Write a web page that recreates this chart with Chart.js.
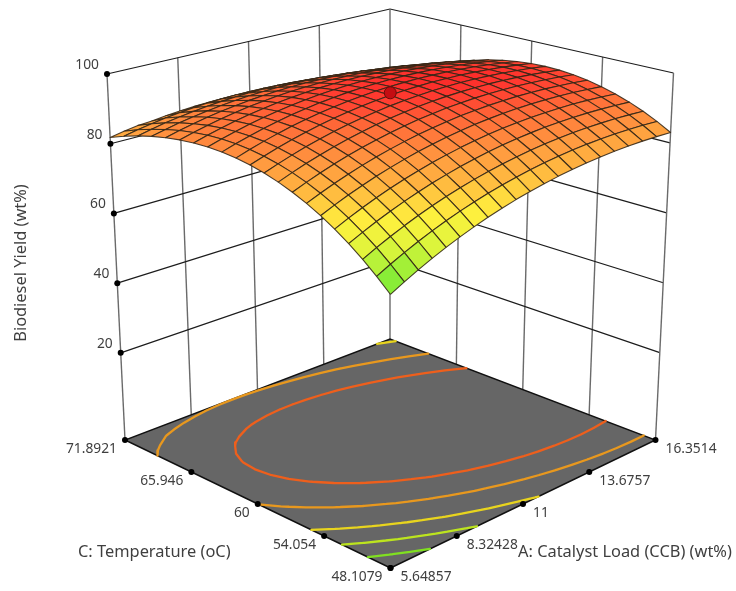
<!DOCTYPE html>
<html><head><meta charset="utf-8">
<style>html,body{margin:0;padding:0;background:#fff}canvas{display:block}</style>
<script src="https://cdn.jsdelivr.net/npm/chart.js@4/dist/chart.umd.js"></script>
</head><body><canvas id="c" width="736" height="591"></canvas>
<script>
// ---- data ----
const catalystLoad = [5.64857,6.184,6.719,7.254,7.789,8.32428,8.859,9.395,9.930,10.465,11,11.535,12.070,12.605,13.141,13.6757,14.211,14.746,15.281,15.816,16.3514];
const temperature = [48.1079,49.297,50.486,51.676,52.865,54.054,55.243,56.432,57.622,58.811,60,61.189,62.378,63.568,64.757,65.946,67.135,68.324,69.514,70.703,71.8921];
// one row per temperature, one column per catalyst load
const yieldRows = [
[62.58,64.57,66.46,68.24,69.92,71.51,72.98,74.36,75.64,76.81,77.88,78.85,79.72,80.48,81.14,81.71,82.16,82.52,82.78,82.93,82.98],
[65.97,67.90,69.73,71.45,73.07,74.59,76.01,77.33,78.54,79.65,80.66,81.57,82.38,83.08,83.69,84.19,84.58,84.88,85.07,85.17,85.16],
[69.11,70.98,72.74,74.40,75.97,77.43,78.78,80.04,81.19,82.24,83.19,84.04,84.79,85.43,85.97,86.41,86.75,86.98,87.12,87.15,87.08],
[71.99,73.80,75.50,77.10,78.60,80.00,81.30,82.49,83.59,84.58,85.46,86.25,86.94,87.52,88.00,88.38,88.65,88.83,88.90,88.87,88.74],
[74.61,76.36,78.00,79.54,80.98,82.32,83.56,84.69,85.72,86.65,87.48,88.21,88.83,89.35,89.77,90.09,90.31,90.42,90.43,90.34,90.15],
[76.98,78.67,80.25,81.73,83.11,84.39,85.56,86.63,87.60,88.47,89.24,89.91,90.47,90.93,91.29,91.55,91.70,91.75,91.70,91.55,91.30],
[79.09,80.72,82.24,83.66,84.98,86.19,87.31,88.32,89.23,90.04,90.74,91.35,91.85,92.25,92.55,92.75,92.84,92.83,92.72,92.51,92.20],
[80.95,82.51,83.97,85.33,86.59,87.75,88.80,89.75,90.60,91.35,91.99,92.54,92.98,93.32,93.55,93.69,93.72,93.65,93.48,93.21,92.84],
[82.55,84.05,85.45,86.75,87.95,89.04,90.03,90.92,91.71,92.40,92.98,93.47,93.85,94.13,94.30,94.38,94.35,94.22,93.99,93.66,93.22],
[83.89,85.33,86.67,87.91,89.05,90.08,91.01,91.84,92.57,93.20,93.72,94.14,94.46,94.68,94.80,94.81,94.72,94.53,94.24,93.84,93.35],
[84.98,86.36,87.64,88.82,89.89,90.87,91.74,92.51,93.17,93.74,94.20,94.56,94.82,94.98,95.03,94.99,94.84,94.59,94.23,93.78,93.22],
[85.81,87.13,88.35,89.47,90.48,91.39,92.20,92.91,93.52,94.02,94.42,94.72,94.92,95.02,95.01,94.91,94.70,94.38,93.97,93.45,92.84],
[86.39,87.65,88.81,89.86,90.81,91.67,92.41,93.06,93.61,94.05,94.39,94.63,94.77,94.80,94.74,94.57,94.30,93.93,93.45,92.88,92.20],
[86.71,87.91,89.00,90.00,90.89,91.68,92.37,92.96,93.44,93.82,94.10,94.28,94.36,94.33,94.21,93.98,93.65,93.21,92.68,92.04,91.30],
[86.77,87.91,88.95,89.88,90.71,91.44,92.07,92.60,93.02,93.34,93.56,93.68,93.69,93.61,93.42,93.13,92.74,92.24,91.65,90.95,90.15],
[86.58,87.66,88.63,89.51,90.28,90.95,91.51,91.98,92.34,92.60,92.76,92.82,92.77,92.63,92.38,92.03,91.57,91.02,90.36,89.60,88.74],
[86.13,87.15,88.06,88.88,89.59,90.19,90.70,91.10,91.41,91.61,91.70,91.70,91.59,91.39,91.08,90.67,90.15,89.54,88.82,88.00,87.08],
[85.43,86.38,87.24,87.99,88.64,89.19,89.63,89.97,90.22,90.36,90.39,90.33,90.16,89.89,89.52,89.05,88.47,87.80,87.02,86.14,85.16],
[84.47,85.36,86.16,86.85,87.43,87.92,88.31,88.59,88.77,88.85,88.82,88.70,88.47,88.14,87.71,87.18,86.54,85.80,84.97,84.02,82.98],
[83.25,84.09,84.82,85.45,85.98,86.40,86.73,86.95,87.07,87.08,87.00,86.81,86.53,86.14,85.64,85.05,84.35,83.56,82.65,81.65,80.55],
[81.78,82.55,83.22,83.50,83.96,84.33,84.59,84.75,84.81,84.77,84.62,84.37,84.02,83.57,83.02,82.67,81.91,81.05,80.09,79.03,77.86]
];
const catalystTicks = [5.64857,8.32428,11,13.6757,16.3514];
const catalystTickLabels = ['5.64857','8.32428','11','13.6757','16.3514'];
const temperatureTicks = [48.1079,54.054,60,65.946,71.8921];
const temperatureTickLabels = ['48.1079','54.054','60','65.946','71.8921'];
const yieldTicks = [20,40,60,80,100];
const yieldBase = -5;
const contourLevels = [68.2,73.7,79,84.9,89.8];
const optimumPoint = [11,60,94.9];

// ---- styling / view ----
const contourColors = ['#80e020','#bce41e','#e8d41e','#e8981e','#ee5f1c'];
const surfaceStops = [[62,[95,232,55]],[67,[160,240,55]],[71,[225,245,60]],[75.5,[255,240,62]],[81,[255,184,64]],[85.5,[255,152,64]],[90.7,[255,106,56]],[94,[255,58,48]],[95.2,[250,40,40]]];
const view = {F:[[390.5,568],[390.5,143]],R:[[655.5,440],[673.5,73]],L:[[125,440],[107,74]],B:[[390,339],[390,9]]};
const aMin=catalystTicks[0],aMax=catalystTicks[4],cMin=temperatureTicks[0],cMax=temperatureTicks[4],zMax=yieldTicks[4];

function project(a,c,z){
  const ta=(a-aMin)/(aMax-aMin),tc=(c-cMin)/(cMax-cMin),tz=(z-yieldBase)/(zMax-yieldBase);
  const at=k=>{
    const col=n=>view[n][0][k]+(view[n][1][k]-view[n][0][k])*tz;
    return (1-tc)*((1-ta)*col('F')+ta*col('R'))+tc*((1-ta)*col('L')+ta*col('B'));
  };
  return {x:at(0),y:at(1)};
}
function surfaceColor(z){
  let s=surfaceStops;
  if(z<=s[0][0])return `rgb(${s[0][1]})`;
  for(let i=1;i<s.length;i++){ if(z<=s[i][0]){
    const t=(z-s[i-1][0])/(s[i][0]-s[i-1][0]);
    return 'rgb('+s[i][1].map((v,k)=>Math.round(s[i-1][1][k]+(v-s[i-1][1][k])*t)).join(',')+')';
  }}
  return `rgb(${s[s.length-1][1]})`;
}
const layers=[]; // painted in this order
function line(pts,color,width,extra){layers.push(Object.assign({data:pts,showLine:true,borderColor:color,borderWidth:width,pointRadius:0,pointHoverRadius:0,tension:0,clip:false,fill:false},extra||{}));}
function dots(pts,color,r,border){layers.push({data:pts,showLine:false,pointRadius:r,pointHoverRadius:r,backgroundColor:color,borderColor:border||color,borderWidth:border?1:0,clip:false});}

// walls
const wallV='#6a6a6a', wallH='#1c1c1c';
catalystTicks.slice(1,4).forEach(a=>line([project(a,cMax,yieldBase),project(a,cMax,zMax)],wallV,1.4));
temperatureTicks.slice(1,4).forEach(c=>line([project(aMax,c,yieldBase),project(aMax,c,zMax)],wallV,1.4));
yieldTicks.forEach(z=>{
  line([project(aMin,cMax,z),project(aMax,cMax,z),project(aMax,cMin,z)],wallH,1.2);
});
line([project(aMin,cMax,yieldBase),project(aMin,cMax,zMax)],wallV,1.4);
line([project(aMax,cMax,yieldBase),project(aMax,cMax,zMax)],wallV,1.4);
line([project(aMax,cMin,yieldBase),project(aMax,cMin,zMax)],wallV,1.4);

// floor
line([project(aMin,cMin,yieldBase),project(aMax,cMin,yieldBase),project(aMax,cMax,yieldBase),project(aMin,cMax,yieldBase),project(aMin,cMin,yieldBase)],'#111',1.4,{fill:'shape',backgroundColor:'#666666'});

contourLevels.forEach((lev,li)=>{
  const pts=[];
  const cross=(i1,j1,i2,j2)=>{
    const z1=yieldRows[i1][j1],z2=yieldRows[i2][j2],t=(lev-z1)/(z2-z1);
    return project(catalystLoad[j1]+t*(catalystLoad[j2]-catalystLoad[j1]),temperature[i1]+t*(temperature[i2]-temperature[i1]),yieldBase);
  };
  for(let i=0;i<20;i++)for(let j=0;j<20;j++){
    const e=[];
    const test=(i1,j1,i2,j2)=>{if((yieldRows[i1][j1]>=lev)!==(yieldRows[i2][j2]>=lev))e.push(cross(i1,j1,i2,j2));};
    test(i,j,i,j+1);test(i,j+1,i+1,j+1);test(i+1,j+1,i+1,j);test(i+1,j,i,j);
    if(e.length>=2){pts.push(e[0],e[1],{x:NaN,y:NaN});}
    if(e.length===4){pts.push(e[2],e[3],{x:NaN,y:NaN});}
  }
  line(pts,contourColors[li],2.3,{borderCapStyle:'round',borderJoinStyle:'round',spanGaps:false});
});

// axis dots
dots(yieldTicks.map(z=>project(aMin,cMax,z)),'#000',3);
dots(temperatureTicks.map(c=>project(aMin,c,yieldBase)),'#000',3);
dots(catalystTicks.map(a=>project(a,cMin,yieldBase)),'#000',3);

// surface, far cells first
const cells=[];
for(let i=0;i<20;i++)for(let j=0;j<20;j++)cells.push([i,j]);
cells.sort((p,q)=>(q[0]+q[1])-(p[0]+p[1]));
cells.forEach(([i,j])=>{
  const P=(r,c)=>project(catalystLoad[c],temperature[r],yieldRows[r][c]);
  const mean=(yieldRows[i][j]+yieldRows[i][j+1]+yieldRows[i+1][j]+yieldRows[i+1][j+1])/4;
  line([P(i,j),P(i,j+1),P(i+1,j+1),P(i+1,j),P(i,j)],'rgba(50,38,22,0.88)',1.1,{fill:'shape',backgroundColor:surfaceColor(mean),borderJoinStyle:'round'});
});
// optimum marker
dots([project(optimumPoint[0],optimumPoint[1],optimumPoint[2])],'#c40d12',6,'#6e0a0a');

const textColor='#3f3f3f';
const axisText={id:'axisText',afterDraw(chart){
  const ctx=chart.ctx,sx=chart.scales.x,sy=chart.scales.y;
  ctx.save();ctx.fillStyle=textColor;ctx.font='13.8px "Noto Sans"';ctx.textBaseline='middle';
  const put=(s,p,dx,dy,al)=>{ctx.textAlign=al;ctx.fillText(s,sx.getPixelForValue(p.x)+dx,sy.getPixelForValue(p.y)+dy);};
  yieldTicks.forEach(z=>put(String(z),project(aMin,cMax,z),-8,-9,'right'));
  temperatureTicks.forEach((c,i)=>put(temperatureTickLabels[i],project(aMin,c,yieldBase),-8,9.5,'right'));
  catalystTicks.forEach((a,i)=>put(catalystTickLabels[i],project(a,cMin,yieldBase),10,9.5,'left'));
  ctx.font='16.4px "Noto Sans"';
  ctx.textAlign='left';
  ctx.fillText('C: Temperature (oC)',78,552);
  ctx.fillText('A: Catalyst Load (CCB) (wt%)',518,552);
  ctx.translate(21,263);ctx.rotate(-Math.PI/2);ctx.textAlign='center';
  ctx.fillText('Biodiesel Yield (wt%)',0,0);
  ctx.restore();
}};

new Chart(document.getElementById('c'),{
  type:'scatter',
  data:{datasets:layers.slice().reverse()},
  options:{responsive:false,animation:false,events:[],devicePixelRatio:1,
    layout:{padding:0,autoPadding:false},
    plugins:{legend:{display:false},tooltip:{enabled:false},title:{display:false}},
    scales:{
      x:{type:'linear',min:0,max:736,display:false},
      y:{type:'linear',min:0,max:591,reverse:true,display:false}
    }},
  plugins:[axisText]
});
</script></body></html>
